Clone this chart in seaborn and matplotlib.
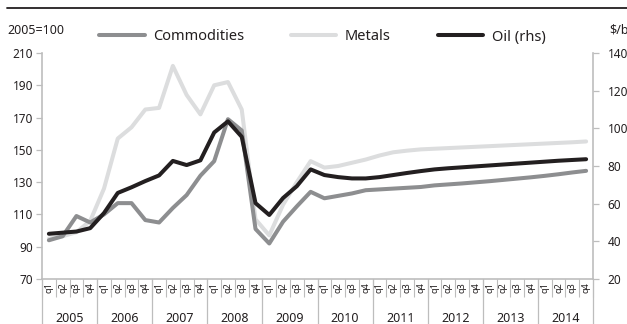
import numpy as np
import pandas as pd
import seaborn as sns
import matplotlib.pyplot as plt
import matplotlib.transforms as mtransforms
from matplotlib.lines import Line2D

# Quarterly data, 2005q1 - 2014q4
years = [str(y) for y in range(2005, 2015)]
quarters = ['q1', 'q2', 'q3', 'q4']

# 2005=100 (lhs)
commodities = [94, 96.5, 109, 105,
               110, 117, 117, 106.5,
               105, 114, 122, 134,
               143, 169, 162, 101,
               92, 105.5, 115, 124,
               120, 121.5, 123, 125,
               125.5, 126, 126.5, 127,
               128, 128.6, 129.2, 129.9,
               130.6, 131.4, 132.2, 133,
               133.9, 134.9, 136, 137]
metals = [95, 96.5, 99, 106,
          126, 157, 164, 175,
          176, 202, 184, 172,
          190, 192, 175, 107,
          97, 116, 130, 143,
          139, 140, 142, 144,
          146.5, 148.5, 149.5, 150.3,
          150.7, 151.1, 151.5, 151.9,
          152.3, 152.7, 153.1, 153.5,
          153.9, 154.3, 154.7, 155.2]
# $/b (rhs)
oil = [44, 44.6, 45.2, 47,
       55, 65.7, 68.7, 72,
       75, 82.7, 80.5, 83,
       97.8, 103.7, 95.5, 60.3,
       54, 63, 69.3, 78.2,
       75.2, 74.1, 73.4, 73.4,
       74.1, 75.2, 76.3, 77.3,
       78.2, 78.8, 79.3, 79.8,
       80.3, 80.8, 81.3, 81.8,
       82.3, 82.8, 83.2, 83.6]

df = pd.DataFrame({'t': np.arange(len(oil)), 'Commodities': commodities,
                   'Metals': metals, 'Oil (rhs)': oil})

sns.set_theme(style='white')
plt.rcParams['font.family'] = ['Noto Sans', 'DejaVu Sans']

dark = '#231f20'
axis_grey = '#bdbdbd'
c_comm = '#8d8e90'
c_met = '#dcddde'
lw = 2.9

fig = plt.figure(figsize=(6.27, 3.24), dpi=100)
ax = fig.add_axes([42/627, 1-279/324, (593-42)/627, (279-53)/324])
ax2 = ax.twinx()

sns.lineplot(data=df, x='t', y='Metals', ax=ax, color=c_met, lw=lw,
             solid_capstyle='round', label='Metals', legend=False)
sns.lineplot(data=df, x='t', y='Commodities', ax=ax, color=c_comm, lw=lw,
             solid_capstyle='round', label='Commodities', legend=False)
sns.lineplot(data=df, x='t', y='Oil (rhs)', ax=ax2, color=dark, lw=lw,
             solid_capstyle='round', label='Oil (rhs)', legend=False)

ax.set_xlim(-0.5, 39.5)
ax.set_ylim(70, 210)
ax.set_yticks(np.arange(70, 211, 20))
ax2.set_ylim(20, 140)
ax2.set_yticks(np.arange(20, 141, 20))
for a in (ax, ax2):
    a.set_xlabel('')
    a.set_ylabel('')

# spines
for a in (ax, ax2):
    for s in a.spines.values():
        s.set_color(axis_grey)
        s.set_linewidth(1.2)
    a.spines['top'].set_visible(False)
ax.spines['right'].set_visible(False)
ax2.spines['left'].set_visible(False)
ax2.spines['bottom'].set_visible(False)

ax.tick_params(axis='y', left=True, length=4.5, width=0.9, color=axis_grey,
               labelsize=8.5, labelcolor=dark, pad=2)
ax2.tick_params(axis='y', right=True, length=4.5, width=0.9, color=axis_grey,
                labelsize=8.5, labelcolor=dark, pad=6)

# quarter labels + quarter separators
ax.set_xticks(np.arange(40))
ax.set_xticklabels(quarters * len(years), rotation=90)
ax.set_xticks(np.arange(-0.5, 40, 1), minor=True)
ax.tick_params(axis='x', which='major', bottom=False, length=0,
               labelsize=6.5, labelcolor=dark, pad=2)
ax.tick_params(axis='x', which='minor', bottom=True, length=13, width=0.8,
               color=axis_grey)

# year labels and year separators
trans = mtransforms.blended_transform_factory(ax.transData, ax.transAxes)
for i, y in enumerate(years):
    ax.text(i*4 + 1.5, -0.175, y, transform=trans, ha='center', va='center',
            fontsize=9, color=dark)
for b in range(0, 41, 4):
    ax.plot([b - 0.5, b - 0.5], [0, -0.21], transform=trans, clip_on=False,
            color=axis_grey, lw=0.9)

# titles / units
fig.text(7/627, 1-30/324, '2005=100', fontsize=9, color=dark, va='center', ha='left')
fig.text(609/627, 1-30/324, '$/b', fontsize=9, color=dark, va='center', ha='left')
fig.add_artist(Line2D([7/627, 1], [1-8/324, 1-8/324], color=dark, lw=1.3))

# legend
h1, l1 = ax.get_legend_handles_labels()
h2, l2 = ax2.get_legend_handles_labels()
handles = [h1[1], h1[0], h2[0]]
labels = [l1[1], l1[0], l2[0]]
fig.legend(handles, labels, ncol=3, loc='center', bbox_to_anchor=(0.514, 1-37/324),
           frameon=False, fontsize=10.5, handlelength=3.1, handletextpad=0.6,
           columnspacing=3.2, labelcolor=dark)

fig.savefig('out.png', dpi=100)
